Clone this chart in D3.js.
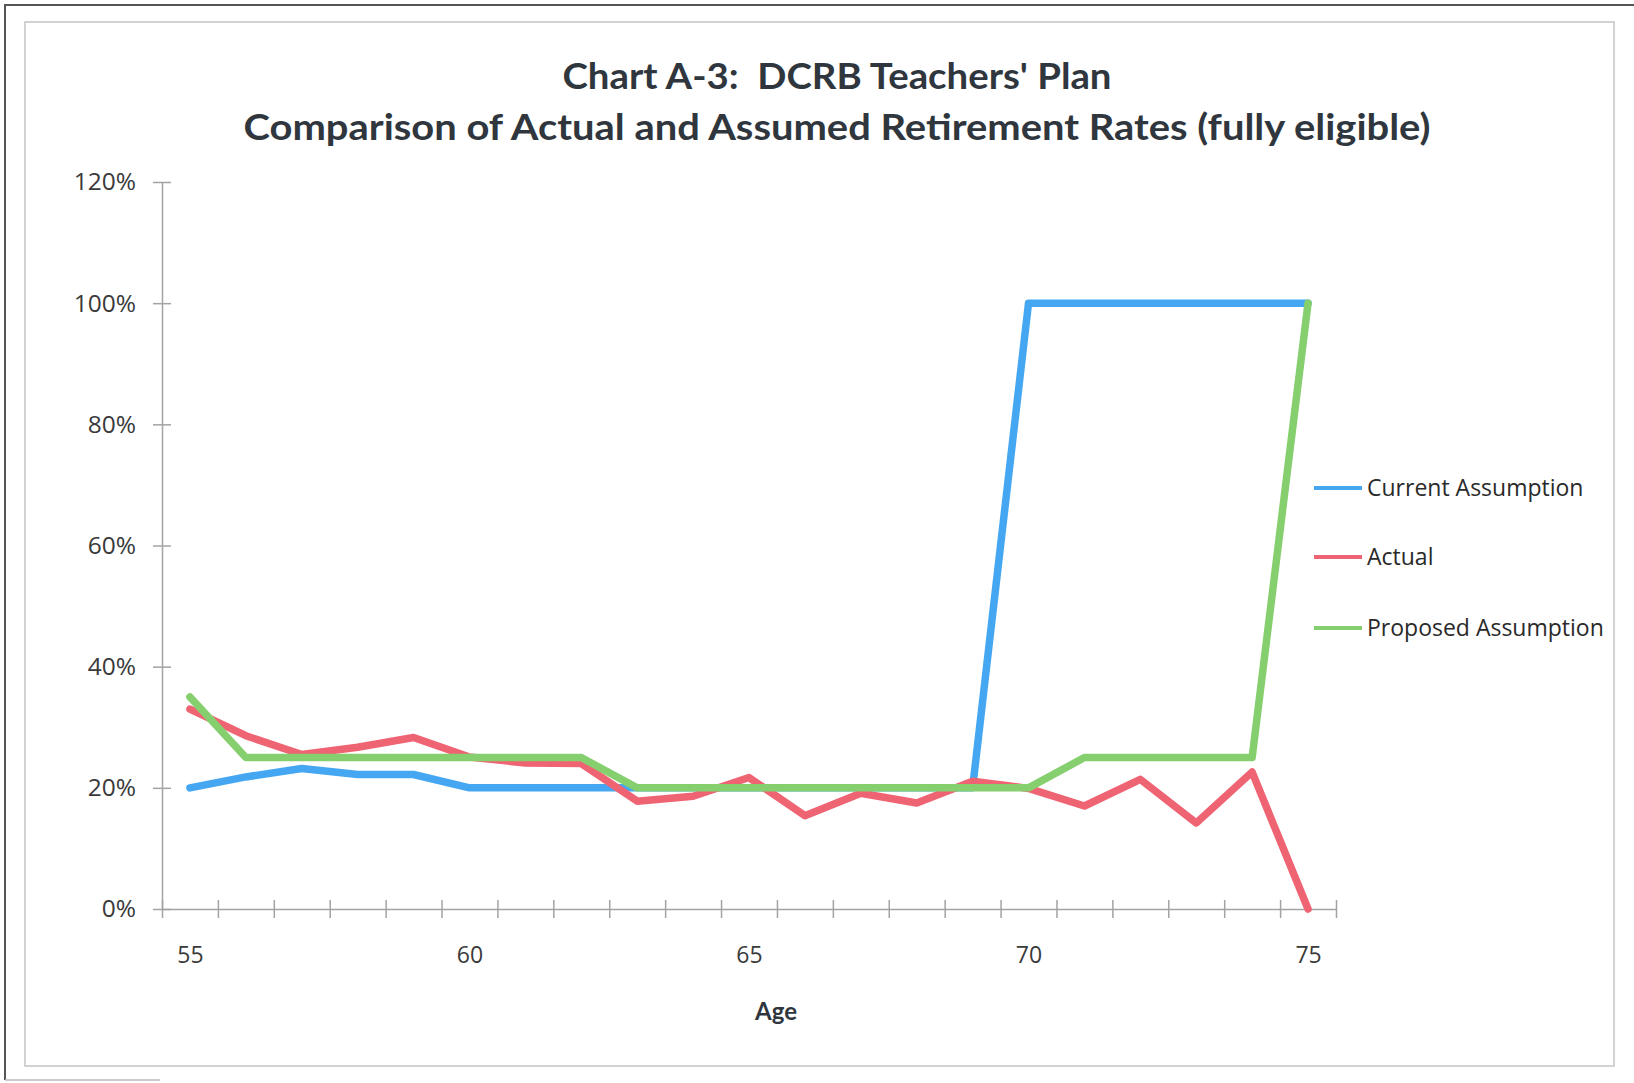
<!DOCTYPE html>
<html>
<head>
<meta charset="utf-8">
<script src="https://cdn.jsdelivr.net/npm/d3@7"></script>
<style>
  body { margin: 0; background: #fff; }
  svg { display: block; }
  text.title { white-space: pre; }
</style>
</head>
<body>
<svg id="chart" width="1634" height="1083"></svg>
<script>
// data (percent)
const ages = [55, 56, 57, 58, 59, 60, 61, 62, 63, 64, 65, 66, 67, 68, 69, 70, 71, 72, 73, 74, 75];
const currentAssumption = [20, 21.8, 23.2, 22.2, 22.2, 20, 20, 20, 20, 20, 20, 20, 20, 20, 20, 100, 100, 100, 100, 100, 100];
const actual = [33.0, 28.6, 25.5, 26.7, 28.3, 25.1, 24.1, 24.0, 17.8, 18.6, 21.7, 15.4, 19.1, 17.5, 21.1, 19.9, 17.0, 21.4, 14.2, 22.6, 0];
const proposedAssumption = [35, 25, 25, 25, 25, 25, 25, 25, 20, 20, 20, 20, 20, 20, 20, 20, 25, 25, 25, 25, 100];
const seriesNames = ['Current Assumption', 'Actual', 'Proposed Assumption'];
const yTicks = [0, 20, 40, 60, 80, 100, 120];
const xLabels = [55, 60, 65, 70, 75];
const titleLines = ["Chart A-3:  DCRB Teachers' Plan", 'Comparison of Actual and Assumed Retirement Rates (fully eligible)'];

const colors = ['#45a7f2', '#ef6473', '#86cf6e'];
const seriesValues = [currentAssumption, actual, proposedAssumption];

// layout
const plot = { left: 162, right: 1336, top: 182, bottom: 909 };
const svg = d3.select('#chart');

// frames
svg.append('rect')
   .attr('x', 25).attr('y', 22)
   .attr('width', 1589).attr('height', 1044)
   .attr('fill', 'none').attr('stroke', '#c4c4c4').attr('stroke-width', 1.5);
svg.append('path')
   .attr('d', 'M5,1080 L5,5 L1634,5')
   .attr('fill', 'none').attr('stroke', '#555').attr('stroke-width', 2);
svg.append('line')
   .attr('x1', 5).attr('x2', 160).attr('y1', 1080).attr('y2', 1080)
   .attr('stroke', '#bbb').attr('stroke-width', 1.5);

// title
const titleWidths = [549, 1187];
const titleY = [89, 140];
svg.selectAll('text.title')
   .data(titleLines)
   .enter().append('text')
     .attr('class', 'title')
     .attr('x', 837)
     .attr('y', (d, i) => titleY[i])
     .attr('text-anchor', 'middle')
     .attr('font-family', 'Lato, "Open Sans", sans-serif')
     .attr('font-weight', 700)
     .attr('font-size', 36)
     .attr('fill', '#30363d')
     .attr('textLength', (d, i) => titleWidths[i])
     .attr('lengthAdjust', 'spacingAndGlyphs')
     .text(d => d);

// scales
const x = d3.scaleLinear().domain([54.5, 75.5]).range([plot.left, plot.right]);
const y = d3.scaleLinear().domain([0, 120]).range([plot.bottom, plot.top]);

const axisColor = '#a3a3a3';

// y axis
const yAxis = svg.append('g')
   .attr('transform', `translate(${plot.left},0)`)
   .call(d3.axisLeft(y)
     .tickValues(yTicks)
     .tickFormat(d => `${d}%`)
     .tickSizeInner(9)
     .tickSizeOuter(0)
     .tickPadding(17));
yAxis.selectAll('.tick line').attr('x1', 9);

// x axis (ticks between categories)
const xAxis = svg.append('g')
   .attr('transform', `translate(0,${plot.bottom})`)
   .call(d3.axisBottom(x)
     .tickValues(d3.range(54.5, 76, 1))
     .tickFormat('')
     .tickSizeInner(9)
     .tickSizeOuter(0));
xAxis.selectAll('.tick line').attr('y1', -9);

// x labels
const xLab = svg.append('g')
   .attr('transform', `translate(0,${plot.bottom})`)
   .call(d3.axisBottom(x)
     .tickValues(xLabels)
     .tickSize(0)
     .tickPadding(38));
xLab.select('.domain').remove();

[yAxis, xAxis].forEach(g => {
  g.selectAll('.domain, .tick line').attr('stroke', axisColor).attr('stroke-width', 1.5);
});
yAxis.selectAll('text')
   .attr('font-family', '"Open Sans", sans-serif')
   .attr('font-size', 24.5)
   .attr('fill', '#3a3a3a');
xLab.selectAll('text')
   .attr('font-family', '"Open Sans", sans-serif')
   .attr('font-size', 23)
   .attr('fill', '#3a3a3a');

// x title
svg.append('text')
   .attr('x', 776).attr('y', 1020)
   .attr('text-anchor', 'middle')
   .attr('font-family', 'Lato, "Open Sans", sans-serif')
   .attr('font-weight', 700)
   .attr('font-size', 24)
   .attr('fill', '#30363d')
   .text('Age');

// lines
const line = d3.line()
   .x((d, i) => x(ages[i]))
   .y(d => y(d));

svg.append('g')
   .attr('class', 'lines')
   .selectAll('path')
   .data(seriesValues)
   .enter().append('path')
     .attr('d', d => line(d))
     .attr('fill', 'none')
     .attr('stroke', (d, i) => colors[i])
     .attr('stroke-width', 7.5)
     .attr('stroke-linejoin', 'round')
     .attr('stroke-linecap', 'round');

// legend
const legendY = [488, 557, 628];
const legend = svg.append('g')
   .selectAll('g')
   .data(seriesNames)
   .enter().append('g')
     .attr('transform', (d, i) => `translate(1314,${legendY[i]})`);

legend.append('line')
   .attr('x1', 0).attr('x2', 48)
   .attr('stroke', (d, i) => colors[i])
   .attr('stroke-width', 4);

legend.append('text')
   .attr('x', 53)
   .attr('dy', '0.35em')
   .attr('font-family', '"Open Sans", sans-serif')
   .attr('font-size', 23)
   .attr('fill', '#2a2a2a')
   .text(d => d);
</script>
</body>
</html>
